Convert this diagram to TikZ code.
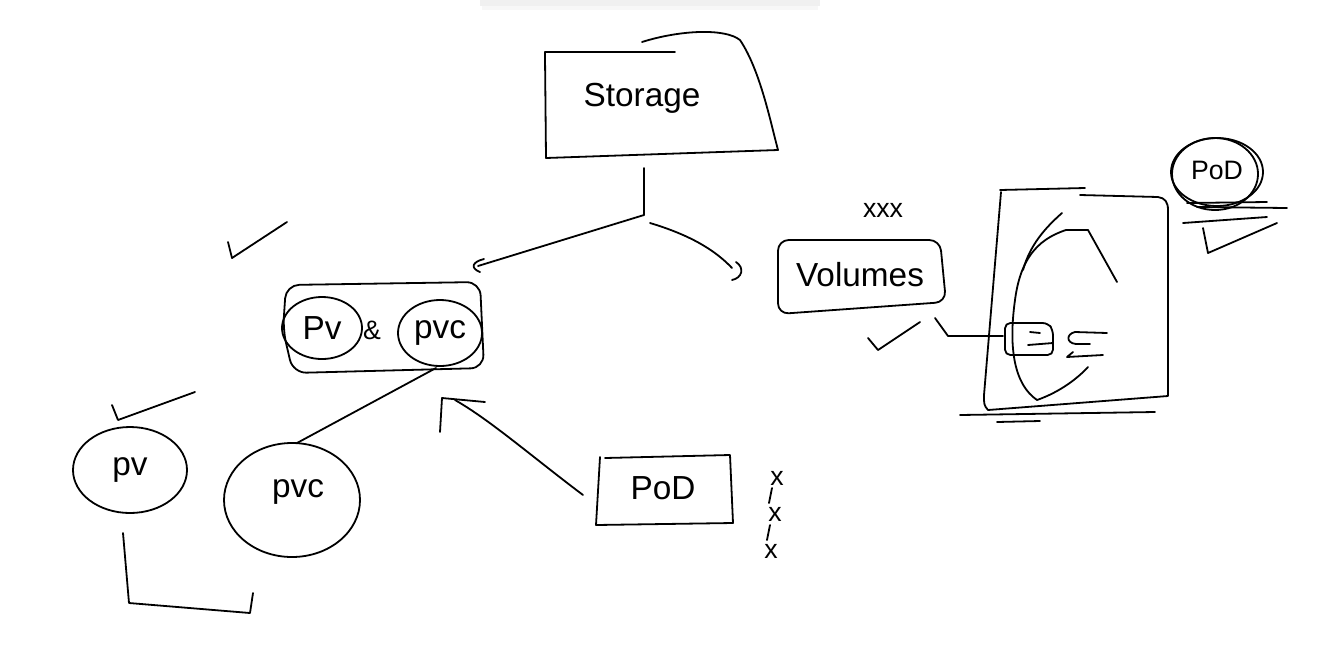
\documentclass[tikz,border=0pt]{standalone}
\usepackage{fontspec}
\setmainfont{Liberation Sans}
\begin{document}
\begin{tikzpicture}[x=0.75pt,y=-0.75pt,
  ink/.style={line width=1.35pt,line cap=round,line join=round,black},
  lbl/.style={font=\fontsize{25}{27}\selectfont,inner sep=0pt},
  smalllbl/.style={font=\fontsize{20}{22}\selectfont,inner sep=0pt}]
\useasboundingbox[fill=white] (0,0) rectangle (1342,658);
% faint top shadow
\fill[black!6] (480,0) rectangle (820,6);
\fill[black!3] (482,6) rectangle (818,10);

% ---------- Storage ----------
\node[lbl] (storage) at (642,98) {Storage};
\draw[ink] (545,60) -- (545,52) -- (675,52);
\draw[ink] (545,56) -- (546,158) -- (778,150);
\draw[ink] (642,42) .. controls (680,30) and (725,28) .. (740,40) .. controls (760,70) and (770,120) .. (778,150);
\coordinate (stemtop) at (644,168);
\coordinate (fork) at (644,215);
\draw[ink] (stemtop) -- (fork);
\draw[ink] (fork) -- (478,266);
\draw[ink] (484,259) .. controls (472,262) and (470,268) .. (480,272);
\draw[ink] (650,223) .. controls (690,235) and (715,250) .. (732,268);
\draw[ink] (736,262) .. controls (745,268) and (742,278) .. (732,280);

% ---------- PV & PVC group ----------
\draw[ink,rounded corners=10pt] (286,285) -- (480,282) -- (484,368) -- (293,373) -- (283,330) -- cycle;
\node[lbl] (pvA) at (322,328) {Pv};
\draw[ink] (pvA) ellipse [x radius=40,y radius=31];
\node[smalllbl] (amp) at (372,330) {\&};
\node[lbl] (pvcA) at (440,333) {pvc};
\draw[ink] (pvcA) ellipse [x radius=42,y radius=33];

% check marks
\draw[ink] (228,242) -- (232,258) -- (287,222);
\draw[ink] (112,405) -- (118,420) -- (195,392);
\draw[ink] (868,338) -- (878,350) -- (920,322);

% ---------- PV and PVC circles ----------
\node[lbl] (pvB) at (130,470) {pv};
\draw[ink] (pvB) ellipse [x radius=57,y radius=43];
\node[lbl] (pvcB) at (298,492) {pvc};
\draw[ink] (292,500) ellipse [x radius=68,y radius=57];
\draw[ink] (436,368) -- (297,443);
\draw[ink] (123,533) -- (129,603) -- (250,613) -- (253,593);

% ---------- PoD box ----------
\node[lbl] (podA) at (663,488) {PoD};
\draw[ink] (600,457) -- (596,525) -- (733,523) -- (730,455) -- (605,458);
\draw[ink] (583,495) .. controls (530,455) and (490,420) .. (455,400);
\draw[ink] (440,432) -- (442,398) -- (485,402);
\node[smalllbl] (x1) at (777,478) {x};
\node[smalllbl] (x2) at (775,514) {x};
\node[smalllbl] (x3) at (771,551) {x};
\draw[ink] (772,488) -- (769,503);
\draw[ink] (770,525) -- (767,540);

% ---------- Volumes ----------
\node[smalllbl] (xxx) at (883,210) {xxx};
\node[lbl] (vol) at (860,275) {Volumes};
\draw[ink,rounded corners=8pt] (778,240) -- (940,240) -- (946,302) -- (778,314) -- cycle;
\draw[ink] (935,318) -- (948,336) -- (1003,336);

% ---------- Right big box ----------
\draw[ink] (1000,190) -- (1085,188);
\draw[ink] (1080,195) -- (1158,197) .. controls (1165,198) and (1168,202) .. (1168,210) -- (1168,396) -- (988,410) .. controls (984,405) .. (984,395) -- (1001,192);
\draw[ink] (960,415) -- (1155,412);
\draw[ink] (997,422) -- (1040,421);
\draw[ink] (1062,213) .. controls (1045,228) and (1030,245) .. (1023,270);
\draw[ink] (1088,230) -- (1066,230) .. controls (1035,240) and (1020,262) .. (1015,300) .. controls (1008,350) and (1015,385) .. (1037,400) .. controls (1060,392) and (1078,378) .. (1088,367);
\draw[ink] (1088,230) -- (1117,282);
\draw[ink,rounded corners=4pt] (1005,323) -- (1048,323) -- (1053,330) -- (1053,355) -- (1005,355) -- cycle;
\draw[ink] (1030,332) -- (1040,333);
\draw[ink] (1028,345) -- (1053,343);
\draw[ink] (1107,333) -- (1075,332) .. controls (1066,334) and (1066,343) .. (1076,344) -- (1090,344);
\draw[ink] (1103,355) -- (1067,357) -- (1073,352);

% ---------- PoD circle top right ----------
\node[smalllbl] (podB) at (1217,170) {PoD};
\draw[ink] (1217,172) ellipse [x radius=46,y radius=34];
\draw[ink] (1215,174) ellipse [x radius=43,y radius=36];
\draw[ink] (1187,203) -- (1267,202);
\draw[ink] (1197,207) -- (1287,208);
\draw[ink] (1183,223) -- (1267,217);
\draw[ink] (1203,228) -- (1208,253) -- (1277,223);
\end{tikzpicture}
\end{document}
